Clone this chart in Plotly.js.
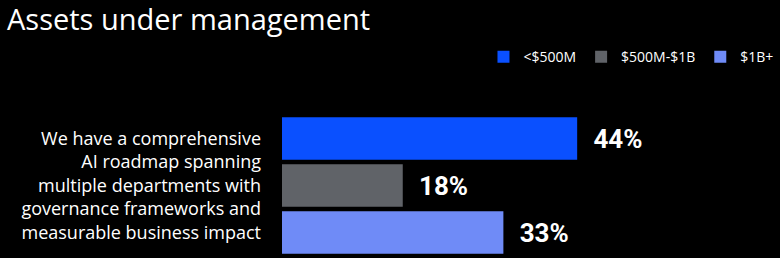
<!DOCTYPE html>
<html>
<head>
<meta charset="utf-8">
<script src="https://cdn.plot.ly/plotly-3.0.1.min.js"></script>
<style>html,body{margin:0;padding:0;background:#000;}#chart{width:780px;height:258px;}</style>
</head>
<body>
<div id="chart"></div>
<script>
var category = ["We have a comprehensive<br>AI roadmap spanning<br>multiple departments with<br>governance frameworks and<br>measurable business impact"];
var seriesNames = ["<$500M", "$500M-$1B", "$1B+"];
var seriesValues = [[44], [18], [33]];
var seriesColors = ["#0A50FF", "#606368", "#6F8BF7"];

var traces = seriesNames.map(function (name, i) {
  return {
    type: "bar",
    orientation: "h",
    name: name,
    y: category,
    x: seriesValues[i],
    marker: { color: seriesColors[i], line: { width: 0 } },
    text: seriesValues[i].map(function (v) { return "\u2002" + v + "%"; }),
    textposition: "outside",
    cliponaxis: false,
    textfont: { family: "Roboto, sans-serif", size: 26, color: "#ffffff", weight: "bold" },
    hoverinfo: "skip"
  };
});

var layout = {
  width: 780,
  height: 258,
  paper_bgcolor: "#000000",
  plot_bgcolor: "#000000",
  margin: { l: 282, r: 70, t: 115, b: 2 },
  barmode: "group",
  bargap: 0,
  bargroupgap: 0.1,
  title: {
    text: "Assets under management",
    x: 0.009, xanchor: "left", xref: "container",
    y: 0.925, yanchor: "middle", yref: "container",
    font: { family: "Open Sans, sans-serif", size: 29, color: "#ffffff" }
  },
  showlegend: true,
  legend: {
    orientation: "h",
    x: 1.16, xanchor: "right", xref: "paper",
    y: 1.41, yanchor: "middle", yref: "paper",
    font: { family: "Open Sans, sans-serif", size: 14, color: "#ffffff" },
    traceorder: "normal",
    bgcolor: "rgba(0,0,0,0)"
  },
  xaxis: {
    range: [0, 63.8],
    visible: false,
    showgrid: false,
    zeroline: false,
    fixedrange: true
  },
  yaxis: {
    autorange: "reversed",
    showgrid: false,
    zeroline: false,
    showline: false,
    ticks: "",
    ticklabelstandoff: 20,
    tickfont: { family: "Open Sans, sans-serif", size: 18, color: "#ffffff" }
  }
};

Plotly.newPlot("chart", traces, layout, { staticPlot: true, displayModeBar: false });
</script>
</body>
</html>
